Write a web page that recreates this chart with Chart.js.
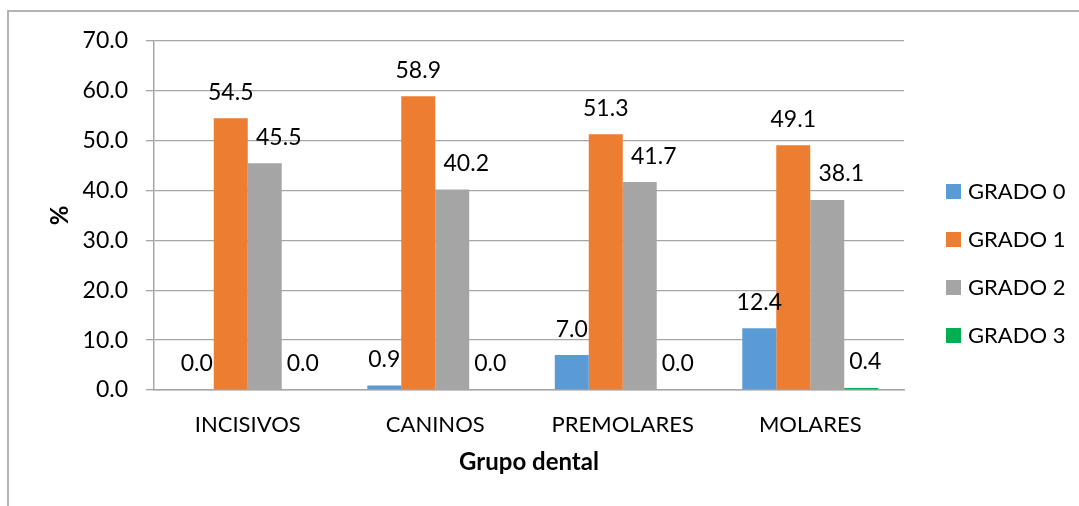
<!DOCTYPE html>
<html lang="es">
<head>
  <meta charset="UTF-8">
  <title>Grado por grupo dental</title>
  <style>
    html, body { margin: 0; padding: 0; background: #fff; }
    #chart { display: block; }
  </style>
  <script src="https://cdn.jsdelivr.net/npm/chart.js"></script>
</head>
<body>
  <canvas id="chart" width="1079" height="506"></canvas>
  <script>
    // categorias y porcentajes por grado
    const grupos = ['INCISIVOS', 'CANINOS', 'PREMOLARES', 'MOLARES'];
    const grado0 = [0.0, 0.9, 7.0, 12.4];
    const grado1 = [54.5, 58.9, 51.3, 49.1];
    const grado2 = [45.5, 40.2, 41.7, 38.1];
    const grado3 = [0.0, 0.0, 0.0, 0.4];
    const yTicks = [0, 10, 20, 30, 40, 50, 60, 70];

    const FONT = 'Lato, "Open Sans", sans-serif';
    const colores = ['#5B9BD5', '#ED7D31', '#A5A5A5', '#00B050'];
    // small horizontal nudge of the value labels, per series
    const labelShift = [0, 0, 14, 4];

    // marco exterior (solo izquierda y arriba)
    const frame = {
      id: 'frame',
      beforeDraw(chart) {
        const ctx = chart.ctx;
        ctx.save();
        ctx.strokeStyle = '#b4b4b4';
        ctx.lineWidth = 2;
        ctx.beginPath();
        ctx.moveTo(8, 506);
        ctx.lineTo(8, 11);
        ctx.lineTo(1079, 11);
        ctx.stroke();
        ctx.restore();
      }
    };

    // etiquetas de valor encima de cada barra
    const valueLabels = {
      id: 'valueLabels',
      afterDatasetsDraw(chart) {
        const ctx = chart.ctx;
        ctx.save();
        ctx.font = '23px ' + FONT;
        ctx.fillStyle = '#000';
        ctx.textAlign = 'center';
        ctx.textBaseline = 'middle';
        chart.data.datasets.forEach((ds, i) => {
          chart.getDatasetMeta(i).data.forEach((bar, j) => {
            ctx.fillText(ds.data[j].toFixed(1), bar.x + labelShift[i], bar.y - 26);
          });
        });
        ctx.restore();
      }
    };

    // leyenda a la derecha
    const sideLegend = {
      id: 'sideLegend',
      afterDraw(chart) {
        const ctx = chart.ctx;
        ctx.save();
        ctx.font = '22px ' + FONT;
        ctx.textBaseline = 'middle';
        ctx.textAlign = 'left';
        chart.data.datasets.forEach((ds, i) => {
          const y = 191 + i * 48;
          ctx.fillStyle = ds.backgroundColor;
          ctx.fillRect(946, y - 7, 15, 15);
          ctx.fillStyle = '#000';
          ctx.fillText(ds.label, 968, y + 1);
        });
        ctx.restore();
      }
    };

    const series = [grado0, grado1, grado2, grado3];

    new Chart(document.getElementById('chart'), {
      type: 'bar',
      data: {
        labels: grupos,
        datasets: series.map((vals, i) => ({
          label: 'GRADO ' + i,
          data: vals,
          backgroundColor: colores[i],
          borderWidth: 0,
          categoryPercentage: 0.725,
          barPercentage: 1
        }))
      },
      options: {
        responsive: false,
        animation: false,
        layout: { padding: { top: 41, right: 175, bottom: 10, left: 30 } },
        plugins: {
          legend: { display: false },
          tooltip: { enabled: false }
        },
        scales: {
          x: {
            grid: { display: false, drawTicks: false },
            border: { color: '#a6a6a6', width: 1.5 },
            ticks: {
              color: '#000',
              font: { family: FONT, size: 22 },
              padding: 22,
              maxRotation: 0
            },
            title: {
              display: true,
              text: 'Grupo dental',
              color: '#000',
              font: { family: FONT, size: 24, weight: 'bold' },
              padding: { top: 4, bottom: 19 }
            },
            afterFit(scale) { scale.height = 106; }
          },
          y: {
            min: 0,
            max: 70,
            afterBuildTicks(scale) { scale.ticks = yTicks.map(v => ({ value: v })); },
            ticks: {
              color: '#000',
              font: { family: FONT, size: 23 },
              padding: 18,
              callback: v => Number(v).toFixed(1)
            },
            grid: { color: '#a6a6a6', lineWidth: 1.3, tickLength: 8 },
            border: { color: '#a6a6a6', width: 1.5 },
            title: {
              display: true,
              text: '%',
              color: '#000',
              font: { family: FONT, size: 24, weight: 'bold' },
              padding: { top: 16, bottom: 0 }
            },
            afterFit(scale) { scale.width = 124; }
          }
        }
      },
      plugins: [frame, valueLabels, sideLegend]
    });
  </script>
</body>
</html>
